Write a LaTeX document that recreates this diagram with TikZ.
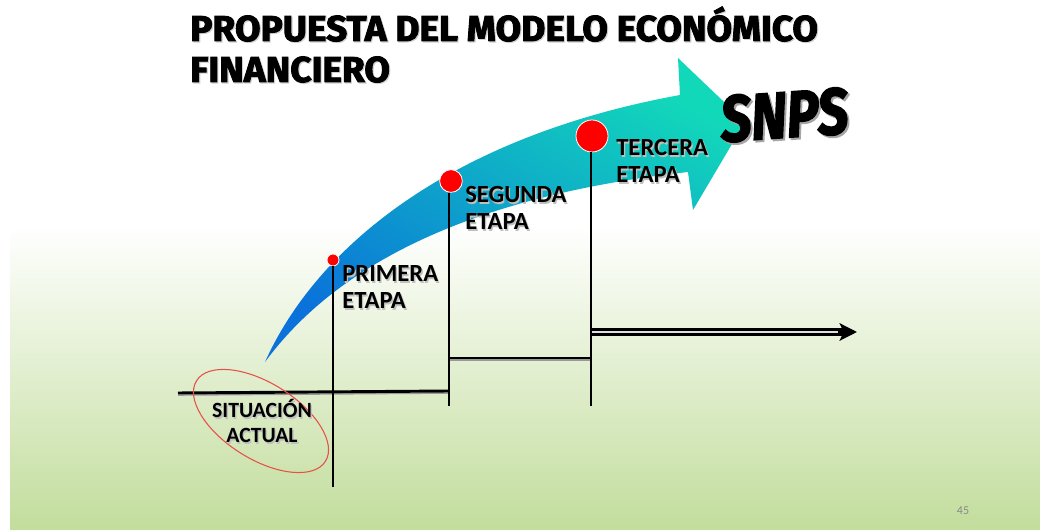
\documentclass[tikz,border=0pt]{standalone}
\usepackage{fontspec}
\setmainfont{Carlito}
\newfontfamily\titlefont{Fira Sans}[BoldFeatures={FakeBold=2.5}]
\newfontfamily\snpsfont{Fira Sans}[BoldItalicFeatures={FakeBold=2.5}]
\usetikzlibrary{arrows.meta}
\definecolor{bgmid}{HTML}{E9F2DF}
\definecolor{bgbot}{HTML}{C2DD9C}
\definecolor{arrblue}{HTML}{0A72DA}
\definecolor{arrcyan}{HTML}{1CB8E2}
\definecolor{arrteal}{HTML}{12D8BA}
\definecolor{dotred}{HTML}{FF0000}
\definecolor{ellred}{HTML}{E8504C}
\definecolor{pagegray}{HTML}{8A8A8A}
% text with a soft drop shadow, set as one text
\newcommand{\shtxt}[3]{\makebox[0pt][l]{\hspace{#2}\raisebox{-#2}{\color{black!#3}#1}}#1}
\tikzset{
  lbl/.style={font=\bfseries\fontsize{18.5}{20}\selectfont, anchor=base west, inner sep=0pt, text=black},
  sitlbl/.style={font=\bfseries\fontsize{16.3}{18}\selectfont, anchor=base, inner sep=0pt, text=black},
  ttl/.style={font=\titlefont\bfseries\fontsize{27}{30}\selectfont, anchor=base west, inner sep=0pt, text=black},
  dot/.style={circle, fill=dotred, draw=white, line width=0.6pt, inner sep=0pt},
  pole/.style={line width=2.2pt, black},
  stepline/.style={line width=2.2pt, black},
  stepshadow/.style={line width=1pt, black!40},
}
\begin{document}
\begin{tikzpicture}[x=0.75pt,y=-0.75pt]
\useasboundingbox (0,0) rectangle (1040,530);
% background
\fill[white] (0,0) rectangle (1040,530);
\shade[top color=white, middle color=bgmid, bottom color=bgbot] (10,225) rectangle (1040,530);

% title
\node[ttl] (t1) at (190,41) {\scalebox{1.03}[1]{\shtxt{PROPUESTA DEL MODELO ECONÓMICO}{0.8pt}{18}}};
\node[ttl] (t2) at (190,82) {\scalebox{1.03}[1]{\shtxt{FINANCIERO}{0.8pt}{18}}};

% big curved arrow
\shade[bottom color=arrblue, middle color=arrcyan, top color=arrteal, shading angle=-30]
  (265,362) .. controls (320,240) and (460,135) .. (680,95)
  -- (678,58) -- (745,122) -- (693,210) -- (688,172)
  .. controls (480,195) and (340,260) .. (265,362) -- cycle;

% SNPS
\node[anchor=base west, inner sep=0pt, rotate=4, text=black, font=\snpsfont\bfseries\itshape\fontsize{49}{50}\selectfont] (snps) at (722,142) {\scalebox{0.83}[1]{\shtxt{SNPS}{1.6pt}{35}}};

% coordinates
\coordinate (p1b) at (333,487);
\coordinate (p2b) at (449,406);
\coordinate (p3b) at (591,406);
\coordinate (s0a) at (178,393);
\coordinate (s0b) at (449,391);
\coordinate (s1a) at (449,358);
\coordinate (s1b) at (591,358);
\coordinate (s2a) at (591,332);
\coordinate (s2b) at (857,332);
\coordinate (s2c) at (838,332);

% step lines
\draw[stepshadow] ([yshift=-1.6pt]s0a) -- ([yshift=-1.6pt]s0b);
\draw[stepline] (s0a) -- (s0b);
\draw[stepshadow] ([yshift=-1.6pt]s1a) -- ([yshift=-1.6pt]s1b);
\draw[stepline] (s1a) -- (s1b);
\draw[line width=5.6pt, black, -{Stealth[length=13pt,width=13pt,inset=3pt]}] (s2a) -- (s2b);
\draw[line width=0.9pt, white!75!gray] (s2a) -- (s2c);

% dots and poles
\node[dot, minimum size=9pt] (d1) at (333,260) {};
\node[dot, minimum size=17pt] (d2) at (451,181) {};
\node[dot, minimum size=24pt] (d3) at (592,136) {};
\draw[pole] (d1.south) -- (p1b);
\draw[pole] (d2.south -| p2b) -- (p2b);
\draw[pole] (d3.south -| p3b) -- (p3b);

% labels
\node[lbl] (l1a) at (342,282) {\shtxt{PRIMERA}{1pt}{25}};
\node[lbl] (l1b) at (342,309) {\shtxt{ETAPA}{1pt}{25}};
\node[lbl] (l2a) at (465,203) {\shtxt{SEGUNDA}{1pt}{25}};
\node[lbl] (l2b) at (465,230) {\shtxt{ETAPA}{1pt}{25}};
\node[lbl] (l3a) at (616,156) {\shtxt{TERCERA}{1pt}{25}};
\node[lbl] (l3b) at (616,183) {\shtxt{ETAPA}{1pt}{25}};

% situacion actual
\draw[ellred, line width=0.8pt, rotate around={-32:(261,421)}] (261,421) ellipse [x radius=76, y radius=38];
\node[sitlbl] (sa1) at (262,418) {\shtxt{SITUACIÓN}{1pt}{25}};
\node[sitlbl] (sa2) at (262,443) {\shtxt{ACTUAL}{1pt}{25}};

% page number
\node[text=pagegray, font=\fontsize{9}{10}\selectfont, inner sep=0pt] (pg) at (963,511) {45};
\end{tikzpicture}
\end{document}
